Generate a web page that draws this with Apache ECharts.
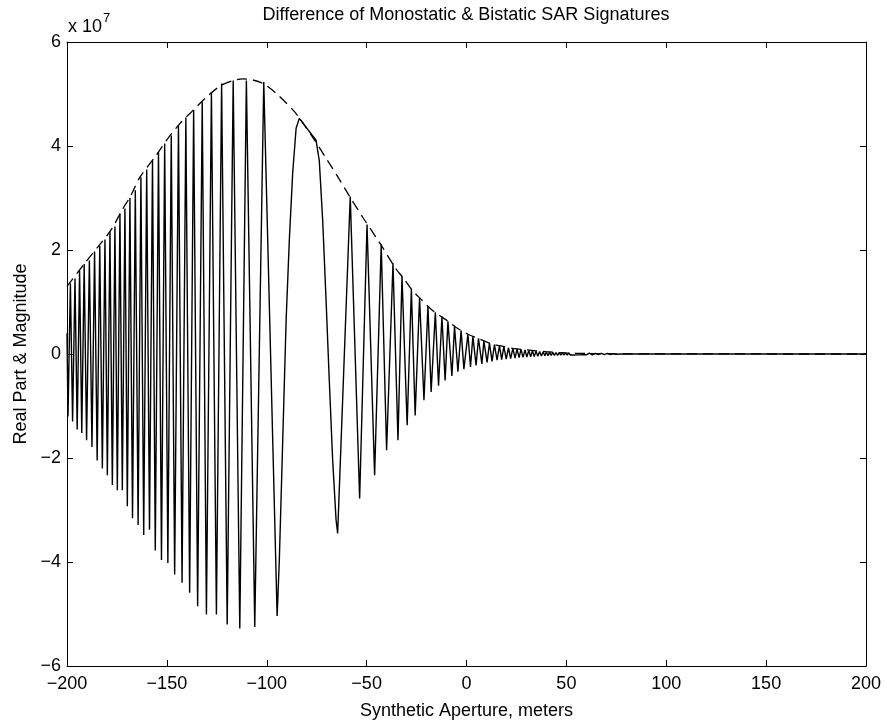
<!DOCTYPE html>
<html lang="en">
<head>
    <meta charset="UTF-8">
    <title>SAR Signatures</title>
    <style>
        body { margin: 0; background: #fff; }
        #main { width: 887px; height: 725px; }
    </style>
</head>
<body>
    <div id="main"></div>
    <script src="https://cdn.jsdelivr.net/npm/echarts@6/dist/echarts.min.js"></script>
    <script>
        // values in units of 1e7
        var xTicks = [-200, -150, -100, -50, 0, 50, 100, 150, 200];
        var yTicks = [-6, -4, -2, 0, 2, 4, 6];

        // real part: first sample
        var edges = [[-200, 0.4]];

        // real part: local maxima
        var peaks = [
            [-198.3, 1.36], [-196.0, 1.45], [-193.7, 1.6], [-191.4, 1.73], [-188.8, 1.8],
            [-186.2, 1.97], [-183.6, 2.08], [-181.0, 2.2], [-178.5, 2.36], [-176.0, 2.45],
            [-173.5, 2.7], [-171.0, 2.8], [-168.5, 3.0], [-165.8, 3.15], [-163.0, 3.4],
            [-160.1, 3.55], [-157.2, 3.72], [-154.2, 3.88], [-151.1, 4.05], [-147.8, 4.2],
            [-144.2, 4.4], [-140.5, 4.55], [-136.6, 4.69], [-132.3, 4.85], [-127.7, 5.04],
            [-122.6, 5.2], [-116.8, 5.26], [-110.2, 5.26], [-101.5, 5.23],
            [-58.2, 3.03], [-49.8, 2.49], [-42.7, 2.11], [-36.8, 1.75], [-32.3, 1.5],
            [-27.6, 1.25], [-23.5, 1.08], [-19.3, 0.92], [-15.6, 0.8], [-12.3, 0.72],
            [-9.3, 0.63], [-6.0, 0.53], [-2.7, 0.45], [0.7, 0.38], [3.2, 0.34],
            [6.0, 0.3], [8.7, 0.25], [11.5, 0.21], [14.0, 0.18], [16.5, 0.16],
            [18.7, 0.14], [21.0, 0.12], [23.2, 0.11], [25.3, 0.1], [27.3, 0.09]
        ];

        // real part: local minima
        var troughs = [
            [-199.5, -1.2], [-197.2, -1.3], [-194.9, -1.45], [-192.6, -1.52], [-190.2, -1.66],
            [-187.5, -1.79], [-184.9, -2.05], [-182.3, -2.2], [-179.8, -2.33], [-177.3, -2.52],
            [-174.8, -2.62], [-172.3, -2.62], [-169.8, -2.93], [-167.2, -3.16], [-164.4, -3.29],
            [-161.6, -3.48], [-158.7, -3.38], [-155.8, -3.78], [-152.7, -3.96], [-149.5, -4.02],
            [-146.1, -4.24], [-142.4, -4.4], [-138.6, -4.59], [-134.6, -4.85], [-130.2, -5.01],
            [-125.2, -5.01], [-119.8, -5.2], [-113.5, -5.28], [-106.0, -5.25],
            [-53.5, -2.78], [-46.0, -2.33], [-40.0, -1.85], [-34.3, -1.66], [-29.7, -1.37],
            [-25.7, -1.18], [-21.3, -0.89], [-17.7, -0.73], [-14.0, -0.61], [-10.7, -0.51],
            [-7.3, -0.42], [-4.3, -0.34], [-1.3, -0.29], [2.0, -0.25], [4.8, -0.22],
            [7.7, -0.19], [10.3, -0.16], [12.8, -0.14], [15.3, -0.12], [17.6, -0.11],
            [19.9, -0.1], [22.1, -0.09], [24.3, -0.08], [26.3, -0.07]
        ];

        // the wide lobe around -80
        var lobe = [
            [-94.8, -5.04], [-93.7, -3.96], [-92.0, -1.66], [-90.3, 0.65], [-88.7, 2.19],
            [-87.0, 3.49], [-85.3, 4.34], [-83.7, 4.53], [-75.3, 4.11], [-73.7, 3.72],
            [-72.0, 2.57], [-70.3, 1.03], [-68.7, -0.5], [-67.0, -2.04], [-65.3, -3.19],
            [-64.5, -3.45]
        ];

        // small ripples on the right, then flat
        var tail = [
            [28.3, -0.065], [29.3, 0.08], [30.2, -0.06], [31.2, 0.07], [32.1, -0.055],
            [33.0, 0.062], [33.9, -0.05], [34.8, 0.055], [35.7, -0.045], [36.6, 0.05],
            [37.5, -0.04], [38.4, 0.045], [39.2, -0.036], [40.0, 0.04], [40.8, -0.032],
            [41.6, 0.036], [42.4, -0.03], [43.2, 0.032], [44.0, -0.027], [44.8, 0.029],
            [45.6, -0.025], [46.4, 0.026], [47.2, -0.023], [48.0, 0.024], [48.8, -0.021],
            [49.6, 0.022], [50.4, -0.02], [51.2, 0.02], [52.0, -0.019], [52.8, 0.019],
            [53.6, -0.018], [54.4, 0.018], [55.2, -0.017], [56.0, 0.017], [56.8, -0.016],
            [57.6, 0.016], [58.4, -0.015], [59.2, 0.015], [60.0, -0.015], [61.5, 0.015],
            [63.0, -0.015], [64.5, 0.014], [66.0, -0.014], [67.5, 0.013], [69.0, -0.012],
            [70.5, 0.011], [72.0, -0.01], [73.5, 0.008], [75.0, -0.005], [78, 0],
            [120, 0], [160, 0], [200, 0]
        ];

        // magnitude (dashed)
        var envelope = [
            [-200, 1.3], [-191, 1.75], [-184.3, 2.07], [-177.7, 2.4], [-172.7, 2.75],
            [-168, 3.05], [-163.5, 3.4], [-155.2, 3.83], [-150.2, 4.11], [-143.5, 4.43],
            [-136.8, 4.69], [-130.2, 4.94], [-122.7, 5.17], [-116.8, 5.26], [-112, 5.29],
            [-107, 5.27], [-101.8, 5.2], [-95.2, 5.01], [-86.8, 4.69], [-83.5, 4.53],
            [-76, 4.11], [-70.2, 3.76], [-63.5, 3.35], [-58.5, 3.03], [-51.8, 2.62],
            [-43.5, 2.14], [-35.2, 1.63], [-31.8, 1.47], [-26.8, 1.21], [-22.7, 1.05],
            [-17.7, 0.86], [-13.5, 0.74], [-8.5, 0.61], [-5.2, 0.51], [0.7, 0.38],
            [6.5, 0.29], [11.5, 0.21], [16.5, 0.16], [23.2, 0.11], [29.8, 0.08],
            [39.8, 0.045], [49.8, 0.02], [60, 0.01], [80, 0.003], [120, 0.001], [200, 0]
        ];

        var realPart = edges.concat(peaks, troughs, lobe, tail).sort(function (a, b) { return a[0] - b[0]; });

        var font = 'Liberation Sans, Arial, Helvetica, sans-serif';
        function minus(v) { return String(v).replace('-', '\u2212'); }

        var chart = echarts.init(document.getElementById('main'));

        var axisCommon = {
            type: 'value',
            axisLine: { show: true, onZero: false, lineStyle: { color: '#000', width: 1 } },
            axisTick: { show: true, inside: true, length: 6, lineStyle: { color: '#000' } },
            splitLine: { show: false }
        };

        var option = {
            animation: false,
            backgroundColor: '#fff',
            grid: { left: 67, right: 21, top: 42, bottom: 56 },
            xAxis: [
                Object.assign({}, axisCommon, {
                    min: xTicks[0], max: xTicks[xTicks.length - 1], interval: 50,
                    position: 'bottom',
                    name: 'Synthetic Aperture, meters',
                    nameLocation: 'middle', nameGap: 36,
                    nameTextStyle: { color: '#000', fontSize: 18, fontFamily: font },
                    axisLabel: { color: '#000', fontSize: 18, fontFamily: font, margin: 9, formatter: minus }
                }),
                Object.assign({}, axisCommon, {
                    min: xTicks[0], max: xTicks[xTicks.length - 1], interval: 50,
                    position: 'top',
                    axisLabel: { show: false }
                })
            ],
            yAxis: [
                Object.assign({}, axisCommon, {
                    min: yTicks[0], max: yTicks[yTicks.length - 1], interval: 2,
                    position: 'left',
                    name: 'Real Part & Magnitude',
                    nameLocation: 'middle', nameGap: 36, nameRotate: 90,
                    nameTextStyle: { color: '#000', fontSize: 18, fontFamily: font },
                    axisLabel: { color: '#000', fontSize: 18, fontFamily: font, margin: 6, formatter: minus }
                }),
                Object.assign({}, axisCommon, {
                    min: yTicks[0], max: yTicks[yTicks.length - 1], interval: 2,
                    position: 'right',
                    axisLabel: { show: false }
                })
            ],
            graphic: [
                {
                    type: 'text', x: 466, y: 15,
                    style: {
                        text: 'Difference of Monostatic & Bistatic SAR Signatures',
                        fill: '#000', fontSize: 18, fontFamily: font,
                        textAlign: 'center', textVerticalAlign: 'middle'
                    }
                },
                {
                    type: 'text', x: 68, y: 27,
                    style: { text: 'x 10', fill: '#000', fontSize: 18, fontFamily: font, textVerticalAlign: 'middle' }
                },
                {
                    type: 'text', x: 103, y: 18,
                    style: { text: '7', fill: '#000', fontSize: 13, fontFamily: font, textVerticalAlign: 'middle' }
                }
            ],
            series: [
                {
                    name: 'Real Part',
                    type: 'line',
                    data: realPart,
                    showSymbol: false,
                    sampling: null,
                    lineStyle: { color: '#000', width: 1.4 }
                },
                {
                    name: 'Magnitude',
                    type: 'line',
                    data: envelope,
                    showSymbol: false,
                    smooth: 0.3,
                    lineStyle: { color: '#000', width: 1.3, type: [10, 6] }
                }
            ]
        };
        chart.setOption(option);
    </script>
</body>
</html>
